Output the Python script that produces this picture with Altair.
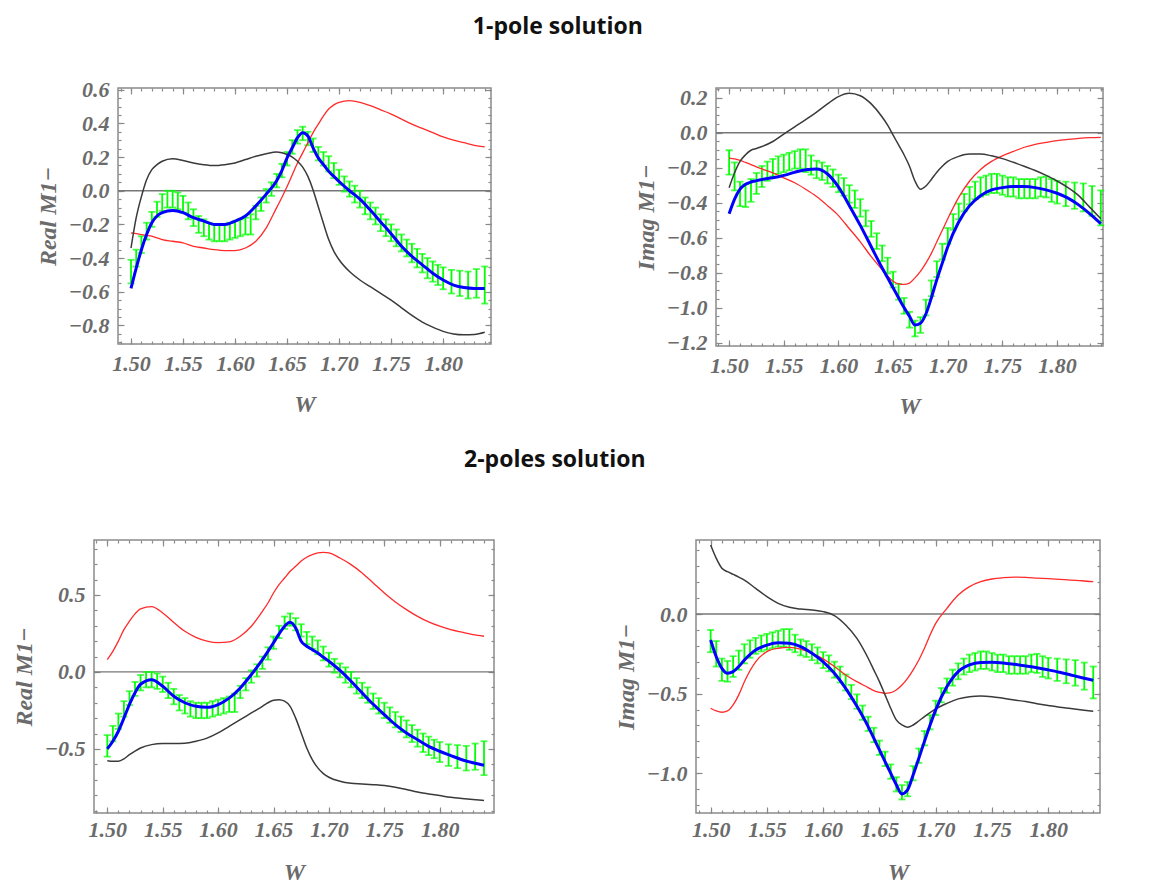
import altair as alt
import numpy as np
import pandas as pd

# ---------------- data ----------------
W_DATA = [1.500, 1.505, 1.510, 1.515, 1.520, 1.525, 1.530, 1.535, 1.540, 1.545,
          1.550, 1.555, 1.560, 1.565, 1.570, 1.575, 1.580, 1.585, 1.590, 1.595,
          1.600, 1.605, 1.610, 1.615, 1.620, 1.625, 1.630, 1.635, 1.640, 1.645,
          1.650, 1.655, 1.660, 1.665, 1.670, 1.675, 1.680, 1.685, 1.690, 1.695,
          1.700, 1.705, 1.710, 1.715, 1.720, 1.725, 1.730, 1.735, 1.740, 1.745,
          1.750, 1.755, 1.760, 1.765, 1.770, 1.775, 1.780, 1.785, 1.790, 1.795,
          1.800, 1.808, 1.816, 1.824, 1.832, 1.840]

RE_VAL = [-0.48, -0.40, -0.32, -0.24, -0.17, -0.11, -0.07, -0.05, -0.05, -0.06,
          -0.08, -0.12, -0.16, -0.20, -0.22, -0.24, -0.25, -0.25, -0.25, -0.24,
          -0.23, -0.22, -0.21, -0.20, -0.13, -0.08, -0.03, 0.01, 0.06, 0.12,
          0.19, 0.26, 0.32, 0.34, 0.31, 0.27, 0.22, 0.19, 0.16, 0.12,
          0.08, 0.04, 0.01, -0.02, -0.05, -0.09, -0.12, -0.15, -0.19, -0.22,
          -0.25, -0.28, -0.31, -0.34, -0.37, -0.40, -0.43, -0.46, -0.48, -0.50,
          -0.52, -0.54, -0.55, -0.56, -0.55, -0.56]
RE_ERR = [0.07, 0.05, 0.05, 0.05, 0.045, 0.045, 0.05, 0.05, 0.05, 0.05,
          0.05, 0.05, 0.05, 0.05, 0.05, 0.05, 0.05, 0.05, 0.05, 0.05,
          0.05, 0.05, 0.05, 0.06, 0.04, 0.04, 0.04, 0.04, 0.04, 0.04,
          0.04, 0.04, 0.04, 0.04, 0.04, 0.04, 0.04, 0.04, 0.045, 0.045,
          0.045, 0.045, 0.045, 0.05, 0.05, 0.05, 0.05, 0.05, 0.05, 0.05,
          0.05, 0.05, 0.05, 0.05, 0.055, 0.055, 0.055, 0.06, 0.06, 0.06,
          0.065, 0.07, 0.075, 0.08, 0.085, 0.11]

IM_VAL = [-0.17, -0.25, -0.35, -0.36, -0.33, -0.29, -0.25, -0.22, -0.20, -0.185,
          -0.175, -0.165, -0.155, -0.15, -0.16, -0.185, -0.21, -0.22, -0.24, -0.26,
          -0.29, -0.31, -0.35, -0.38, -0.43, -0.49, -0.55, -0.62, -0.69, -0.76,
          -0.84, -0.91, -0.99, -1.07, -1.12, -1.10, -1.00, -0.89, -0.78, -0.68,
          -0.59, -0.51, -0.45, -0.40, -0.36, -0.33, -0.31, -0.30, -0.29, -0.29,
          -0.30, -0.31, -0.31, -0.32, -0.32, -0.32, -0.32, -0.31, -0.31, -0.33,
          -0.34, -0.35, -0.36, -0.37, -0.39, -0.43]
IM_ERR = [0.07, 0.08, 0.07, 0.065, 0.065, 0.06, 0.06, 0.055, 0.05, 0.05,
          0.05, 0.05, 0.05, 0.055, 0.065, 0.055, 0.05, 0.05, 0.05, 0.05,
          0.05, 0.05, 0.05, 0.05, 0.05, 0.045, 0.045, 0.045, 0.045, 0.045,
          0.045, 0.045, 0.045, 0.045, 0.045, 0.045, 0.045, 0.045, 0.045, 0.045,
          0.045, 0.045, 0.045, 0.05, 0.05, 0.05, 0.055, 0.055, 0.055, 0.055,
          0.055, 0.055, 0.055, 0.055, 0.055, 0.055, 0.055, 0.055, 0.06, 0.065,
          0.065, 0.07, 0.075, 0.08, 0.085, 0.10]

W_CURVE = [1.50, 1.505, 1.51, 1.515, 1.52, 1.525, 1.53,
           1.54, 1.55, 1.56, 1.57, 1.58, 1.59, 1.60, 1.61, 1.62, 1.63,
           1.64, 1.645, 1.65, 1.655, 1.66, 1.665, 1.67, 1.675, 1.68, 1.685, 1.69, 1.695, 1.70,
           1.71, 1.72, 1.73, 1.74, 1.75, 1.76, 1.77, 1.78, 1.79, 1.80, 1.81, 1.82, 1.83, 1.84]

# 1-pole solution, real part
P1_BLUE = [-0.58, -0.46, -0.35, -0.26, -0.19, -0.15, -0.13,
           -0.117, -0.13, -0.16, -0.18, -0.20, -0.20, -0.18, -0.15, -0.09, -0.02,
           0.06, 0.12, 0.195, 0.255, 0.315, 0.345, 0.325, 0.255, 0.195, 0.155, 0.115, 0.085, 0.055,
           0.0, -0.05, -0.115, -0.185, -0.255, -0.33, -0.39, -0.44, -0.49, -0.53, -0.56, -0.575, -0.58, -0.58]
P1_RED = [-0.25, -0.255, -0.26, -0.265, -0.27, -0.28, -0.29,
          -0.30, -0.31, -0.33, -0.34, -0.35, -0.355, -0.355, -0.34, -0.30, -0.22,
          -0.10, -0.04, 0.025, 0.095, 0.165, 0.225, 0.285, 0.345, 0.395, 0.445, 0.485, 0.51, 0.525,
          0.535, 0.525, 0.505, 0.48, 0.455, 0.425, 0.395, 0.37, 0.345, 0.32, 0.30, 0.285, 0.27, 0.26]
P1_BLACK = [-0.34, -0.16, -0.035, 0.065, 0.125, 0.155, 0.175,
            0.19, 0.18, 0.165, 0.155, 0.15, 0.155, 0.165, 0.185, 0.205, 0.22,
            0.23, 0.225, 0.215, 0.20, 0.175, 0.14, 0.085, 0.005, -0.095, -0.195, -0.29, -0.36, -0.41,
            -0.48, -0.53, -0.57, -0.61, -0.65, -0.695, -0.74, -0.78, -0.81, -0.835, -0.85, -0.855, -0.853, -0.84]

# 1-pole solution, imaginary part
P2_BLUE = [-0.464, -0.38, -0.323, -0.295, -0.282, -0.274, -0.267,
           -0.258, -0.244, -0.226, -0.212, -0.208, -0.236, -0.31, -0.417, -0.53, -0.652,
           -0.774, -0.83, -0.887, -0.944, -1.0, -1.05, -1.10, -1.09, -1.037, -0.944, -0.84, -0.746, -0.652,
           -0.511, -0.417, -0.36, -0.327, -0.314, -0.308, -0.308, -0.314, -0.327, -0.346, -0.374, -0.414, -0.464, -0.52]
P2_RED = [-0.145, -0.15, -0.158, -0.17, -0.182, -0.195, -0.207,
          -0.229, -0.258, -0.286, -0.323, -0.365, -0.417, -0.474, -0.549, -0.624, -0.709,
          -0.784, -0.821, -0.85, -0.865, -0.868, -0.86, -0.83, -0.793, -0.746, -0.69, -0.624, -0.558, -0.492,
          -0.37, -0.276, -0.21, -0.164, -0.132, -0.107, -0.083, -0.066, -0.055, -0.045, -0.038, -0.032, -0.028, -0.026]
P2_BLACK = [-0.314, -0.229, -0.164, -0.126, -0.10, -0.09, -0.079,
            -0.05, -0.008, 0.034, 0.075, 0.118, 0.165, 0.207, 0.226, 0.212, 0.165,
            0.09, 0.043, -0.013, -0.07, -0.126, -0.192, -0.276, -0.323, -0.305, -0.267, -0.226, -0.192, -0.164,
            -0.135, -0.122, -0.122, -0.132, -0.148, -0.169, -0.192, -0.216, -0.244, -0.276, -0.314, -0.361, -0.427, -0.492]

# 2-poles solution, real part
P3_BLUE = [-0.50, -0.45, -0.385, -0.30, -0.21, -0.135, -0.08,
           -0.05, -0.093, -0.158, -0.20, -0.223, -0.23, -0.212, -0.17, -0.104, -0.017,
           0.08, 0.134, 0.19, 0.247, 0.297, 0.323, 0.286, 0.20, 0.167, 0.145, 0.123, 0.095, 0.07,
           0.01, -0.06, -0.136, -0.21, -0.277, -0.342, -0.396, -0.44, -0.483, -0.515, -0.543, -0.57, -0.59, -0.606]
P3_RED = [0.08, 0.134, 0.2, 0.275, 0.33, 0.377, 0.41,
          0.424, 0.383, 0.322, 0.264, 0.225, 0.2, 0.19, 0.195, 0.232, 0.297,
          0.394, 0.448, 0.513, 0.567, 0.61, 0.654, 0.686, 0.72, 0.745, 0.762, 0.773, 0.777, 0.773,
          0.74, 0.697, 0.643, 0.578, 0.513, 0.455, 0.405, 0.361, 0.325, 0.297, 0.275, 0.258, 0.242, 0.232]
P3_BLACK = [-0.576, -0.58, -0.58, -0.565, -0.537, -0.514, -0.494,
            -0.472, -0.465, -0.465, -0.463, -0.45, -0.43, -0.396, -0.353, -0.31, -0.266,
            -0.223, -0.2, -0.184, -0.18, -0.19, -0.223, -0.3, -0.396, -0.494, -0.57, -0.623, -0.66, -0.684,
            -0.71, -0.723, -0.727, -0.732, -0.738, -0.749, -0.764, -0.78, -0.792, -0.803, -0.814, -0.822, -0.829, -0.835]

# 2-poles solution, imaginary part
P4_BLUE = [-0.163, -0.268, -0.341, -0.372, -0.362, -0.33, -0.289,
           -0.226, -0.195, -0.18, -0.184, -0.205, -0.247, -0.30, -0.372, -0.467, -0.58,
           -0.707, -0.78, -0.854, -0.927, -1.0, -1.073, -1.13, -1.105, -1.01, -0.906, -0.80, -0.697, -0.602,
           -0.456, -0.362, -0.32, -0.305, -0.303, -0.307, -0.316, -0.326, -0.337, -0.351, -0.366, -0.383, -0.40, -0.416]
P4_RED = [-0.592, -0.609, -0.617, -0.609, -0.571, -0.508, -0.425,
          -0.30, -0.236, -0.215, -0.209, -0.22, -0.247, -0.282, -0.33, -0.383, -0.425,
          -0.462, -0.481, -0.492, -0.498, -0.494, -0.477, -0.446, -0.404, -0.351, -0.289, -0.215, -0.132, -0.059,
          0.036, 0.119, 0.172, 0.203, 0.22, 0.228, 0.232, 0.23, 0.226, 0.222, 0.218, 0.213, 0.209, 0.203]
P4_BLACK = [0.433, 0.35, 0.287, 0.266, 0.249, 0.232, 0.213,
            0.161, 0.109, 0.067, 0.042, 0.031, 0.025, 0.015, -0.01, -0.069, -0.153,
            -0.278, -0.351, -0.425, -0.508, -0.592, -0.665, -0.697, -0.711, -0.697, -0.672, -0.644, -0.619, -0.596,
            -0.561, -0.533, -0.519, -0.515, -0.519, -0.529, -0.54, -0.55, -0.563, -0.575, -0.586, -0.594, -0.603, -0.611]

X_MAJOR = [1.50, 1.55, 1.60, 1.65, 1.70, 1.75, 1.80]
X_MINOR = [round(v, 2) for v in np.arange(1.49, 1.8451, 0.01)]

TITLE_1 = "1-pole solution"
TITLE_2 = "2-poles solution"

# ---------------- styling ----------------
FRAME = "#8a8a8a"
GREEN = "#00ff00"
TXT = "#6b6b6b"
SERIF = "Liberation Serif"
LBL = dict(labelFont=SERIF, labelFontSize=22, labelFontStyle="italic",
           labelFontWeight="bold", labelColor=TXT)
TTL = dict(titleFont=SERIF, titleFontSize=24, titleFontStyle="italic",
           titleFontWeight="bold", titleColor=TXT)


def tick_axis(orient, offset, values, size):
    return alt.Axis(orient=orient, offset=offset, values=values, labels=False,
                    domain=False, grid=False, ticks=True, tickSize=size,
                    tickColor=FRAME, tickWidth=1.2, title=None)


def panel(val, err, blue, red, black, xdom, ydom, ymaj, ymin, ytitle, w, h,
          xlpad, xtpad):
    d = pd.DataFrame({"W": W_DATA, "v": val, "err": err})
    d["lo"] = d["v"] - d["err"]
    d["hi"] = d["v"] + d["err"]
    c = pd.DataFrame({"W": W_CURVE, "blue": blue, "red": red, "black": black})
    xs = alt.Scale(domain=xdom, nice=False, zero=False)
    ys = alt.Scale(domain=ydom, nice=False, zero=False)

    x_lab = alt.Axis(orient="bottom", values=X_MAJOR, format=".2f", ticks=False,
                     domain=False, grid=False, labelFlush=False, labelOverlap=False,
                     labelPadding=xlpad, title="W", titlePadding=xtpad, **LBL, **TTL)
    y_lab = alt.Axis(orient="left", values=ymaj, format=".1f", ticks=False,
                     domain=False, grid=False, labelFlush=False, labelOverlap=False,
                     labelPadding=9, title=ytitle, titlePadding=8, **LBL, **TTL)

    zero = alt.Chart(pd.DataFrame({"z": [0.0]})).mark_rule(
        color="#777777", strokeWidth=1.3).encode(y=alt.Y("z:Q", scale=ys, axis=None))
    bars = alt.Chart(d).mark_rule(color=GREEN, strokeWidth=1.8).encode(
        x=alt.X("W:Q", scale=xs, axis=tick_axis("top", -h, X_MAJOR, 6)),
        y=alt.Y("lo:Q", scale=ys, axis=tick_axis("right", -w, ymaj, 6)),
        y2="hi:Q")
    cap_hi = alt.Chart(d).mark_tick(orient="horizontal", color=GREEN, size=7,
                                    thickness=1.8).encode(
        x=alt.X("W:Q", scale=xs, axis=tick_axis("top", -h, X_MINOR, 3)),
        y=alt.Y("hi:Q", scale=ys, axis=tick_axis("right", -w, ymin, 3)))
    cap_lo = alt.Chart(d).mark_tick(orient="horizontal", color=GREEN, size=7,
                                    thickness=1.8).encode(
        x=alt.X("W:Q", scale=xs, axis=tick_axis("bottom", -h, X_MAJOR, 6)),
        y=alt.Y("lo:Q", scale=ys, axis=tick_axis("left", -w, ymaj, 6)))
    red_l = alt.Chart(c).mark_line(color="#ff2a2a", strokeWidth=1.3,
                                   interpolate="monotone").encode(
        x=alt.X("W:Q", scale=xs, axis=tick_axis("bottom", -h, X_MINOR, 3)),
        y=alt.Y("red:Q", scale=ys, axis=tick_axis("left", -w, ymin, 3)))
    black_l = alt.Chart(c).mark_line(color="#3a3a3a", strokeWidth=1.5,
                                     interpolate="monotone").encode(
        x=alt.X("W:Q", scale=xs, axis=x_lab),
        y=alt.Y("black:Q", scale=ys, axis=y_lab))
    blue_l = alt.Chart(c).mark_line(color="#0000ff", strokeWidth=3,
                                    interpolate="monotone").encode(
        x=alt.X("W:Q", scale=xs, axis=None),
        y=alt.Y("blue:Q", scale=ys, axis=None))
    return alt.layer(zero, bars, cap_hi, cap_lo, red_l, black_l, blue_l).resolve_axis(
        x="independent", y="independent").properties(width=w, height=h)


def minor(lo, hi, step):
    return [round(v, 2) for v in np.arange(lo, hi + 1e-9, step)]


def spacer(wd):
    return alt.Chart(pd.DataFrame({"a": [0]})).mark_rule(opacity=0, strokeWidth=0.1).encode(
        x=alt.value(0), y=alt.value(0), y2=alt.value(1)).properties(
        width=wd, height=10, view=alt.ViewBackground(stroke="transparent"))


p1 = panel(RE_VAL, RE_ERR, P1_BLUE, P1_RED, P1_BLACK, [1.4875, 1.846], [-0.91, 0.61],
           [-0.8, -0.6, -0.4, -0.2, 0.0, 0.2, 0.4, 0.6], minor(-0.9, 0.6, 0.05),
           "Real  M1\u2212", 373, 256, 9, 18)
p2 = panel(IM_VAL, IM_ERR, P2_BLUE, P2_RED, P2_BLACK, [1.488, 1.842], [-1.22, 0.256],
           [-1.2, -1.0, -0.8, -0.6, -0.4, -0.2, 0.0, 0.2], minor(-1.2, 0.25, 0.05),
           "Imag  M1\u2212", 387, 258, 9, 18)
p3 = panel(RE_VAL, RE_ERR, P3_BLUE, P3_RED, P3_BLACK, [1.488, 1.849], [-0.916, 0.857],
           [-0.5, 0.0, 0.5], minor(-0.9, 0.8, 0.1),
           "Real  M1\u2212", 400, 273, 6, 20)
p4 = panel(IM_VAL, IM_ERR, P4_BLUE, P4_RED, P4_BLACK, [1.487, 1.846], [-1.25, 0.465],
           [-1.0, -0.5, 0.0], minor(-1.2, 0.4, 0.1),
           "Imag  M1\u2212", 404, 273, 6, 20)


def sec_title(t, off):
    return alt.TitleParams(text=t, anchor="middle", font="Open Sans", fontSize=23,
                           fontWeight="bold", color="#111111", offset=off)


row1 = alt.hconcat(alt.hconcat(spacer(25), p1, spacing=0), p2, spacing=140).properties(
    title=sec_title(TITLE_1, 39))
row2 = alt.hconcat(alt.hconcat(spacer(1), p3, spacing=0), p4, spacing=117).properties(
    title=sec_title(TITLE_2, 67))

chart = alt.vconcat(row1, row2, spacing=29).properties(
    padding={"left": 0, "top": 7, "right": 5, "bottom": 1}
).configure_view(stroke=FRAME, strokeWidth=1.5)

chart.save("out.html", embed_options={"renderer": "svg", "actions": False})
